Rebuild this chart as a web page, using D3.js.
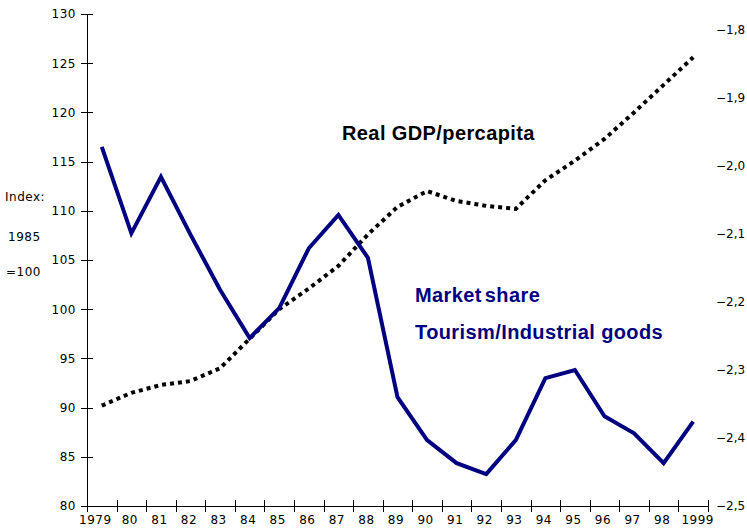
<!DOCTYPE html>
<html>
  <head>
    <meta charset="utf-8">
    <title>Real GDP per capita and market share</title>
    <script src="https://d3js.org/d3.v7.min.js"></script>
    <style>
      body { margin: 0; background: #fff; }
      #chart { width: 747px; height: 530px; display: block; }
      .axis text { font-family: "DejaVu Sans", sans-serif; font-size: 12px; letter-spacing: 0.5px; fill: #000; }
      #y2AxisGroup text { letter-spacing: 0; }
      .axis path, .axis line { stroke: #000; stroke-width: 1; shape-rendering: crispEdges; }
      .note { font-family: "DejaVu Sans", sans-serif; font-size: 12px; letter-spacing: 0.5px; fill: #000; }
      .label { font-family: "Liberation Sans", Arial, sans-serif; font-weight: bold; font-size: 20px; letter-spacing: 0.4px; }
    </style>
  </head>
  <body>
    <svg id="chart">
      <g id="xAxisGroup" class="axis"></g>
      <g id="xTickGroup" class="axis"></g>
      <g id="yAxisGroup" class="axis"></g>
      <g id="y2AxisGroup" class="axis"></g>
      <g id="chartGroup"></g>
    </svg>
    <script>
      // data
      var years = [1979, 1980, 1981, 1982, 1983, 1984, 1985, 1986, 1987, 1988, 1989,
        1990, 1991, 1992, 1993, 1994, 1995, 1996, 1997, 1998, 1999];
      var yearLabels = ["1979", "80", "81", "82", "83", "84", "85", "86", "87", "88", "89",
        "90", "91", "92", "93", "94", "95", "96", "97", "98", "1999"];
      // real GDP per capita, index 1985 = 100 (left axis)
      var gdp = [90.2, 91.5, 92.3, 92.7, 94.0, 97.0, 100.0, 102.1, 104.4, 107.6, 110.4,
        112.0, 111.0, 110.5, 110.2, 113.1, 115.1, 117.3, 120.0, 122.8, 125.6];
      // market share tourism / industrial goods (right axis)
      var share = [-1.972, -2.099, -2.016, -2.101, -2.182, -2.253, -2.209, -2.121, -2.072, -2.135, -2.340,
        -2.403, -2.437, -2.453, -2.403, -2.312, -2.300, -2.368, -2.393, -2.437, -2.376];
      var leftTicks = [80, 85, 90, 95, 100, 105, 110, 115, 120, 125, 130];
      var rightTicks = [-2.5, -2.4, -2.3, -2.2, -2.1, -2.0, -1.9, -1.8];

      var chart = d3.select("#chart");
      var chartGroup = d3.select("#chartGroup");

      // scales
      var x = d3.scaleLinear()
        .domain([years[0] - 0.5, years[years.length - 1] + 0.5])
        .range([87, 708]);
      var y = d3.scaleLinear()
        .domain([80, 130])
        .range([506, 14]);
      var y2 = d3.scaleLinear()
        .domain([-2.5, -1.8])
        .range([506, 30]);

      // x axis: labels in the middle of each year, ticks on the year boundaries
      var xAxis = d3.axisBottom(x)
        .tickValues(years)
        .tickSize(0)
        .tickPadding(9)
        .tickFormat(function(d, i) { return yearLabels[i]; });
      var xLabels = d3.select("#xAxisGroup")
        .attr("transform", "translate(0, 506)")
        .call(xAxis);
      xLabels.select(".domain").remove();
      // long end labels sit a little off centre
      xLabels.selectAll(".tick text")
        .attr("dx", function(d, i) { return i === 0 ? -7 : (i === years.length - 1 ? 4 : -2); });
      var bounds = years.map(function(d) { return d - 0.5; }).concat([years[years.length - 1] + 0.5]);
      var xTicks = d3.axisBottom(x)
        .tickValues(bounds)
        .tickSizeOuter(0)
        .tickSizeInner(6)
        .tickFormat("");
      d3.select("#xTickGroup")
        .attr("transform", "translate(0, 506)")
        .call(xTicks)
        .selectAll(".tick line").attr("y1", -6);

      // left axis
      var yAxis = d3.axisLeft(y)
        .tickValues(leftTicks)
        .tickSizeOuter(0)
        .tickSizeInner(6)
        .tickPadding(5);
      d3.select("#yAxisGroup")
        .attr("transform", "translate(87, 0)")
        .call(yAxis)
        .selectAll(".tick line").attr("x1", 6);

      // right axis, labels only
      var y2Axis = d3.axisRight(y2)
        .tickValues(rightTicks)
        .tickSize(0)
        .tickPadding(0)
        .tickFormat(function(d) { return "\u2212" + Math.abs(d).toFixed(1).replace(".", ","); });
      d3.select("#y2AxisGroup")
        .attr("transform", "translate(716, 0)")
        .call(y2Axis)
        .select(".domain").remove();

      // index note
      chart.append("text").attr("class", "note").attr("x", 5).attr("y", 201).text("Index:");
      chart.append("text").attr("class", "note").attr("x", 8).attr("y", 241).text("1985");
      chart.append("text").attr("class", "note").attr("x", 6).attr("y", 276).text("=100");

      // lines
      var gdpLine = d3.line()
        .x(function(d, i) { return x(years[i]); })
        .y(function(d) { return y(d); });
      var shareLine = d3.line()
        .x(function(d, i) { return x(years[i]); })
        .y(function(d) { return y2(d); });

      chartGroup.append("path")
        .attr("d", gdpLine(gdp))
        .attr("fill", "none")
        .attr("stroke", "#000")
        .attr("stroke-width", 4)
        .attr("stroke-dasharray", "4,4");
      chartGroup.append("path")
        .attr("d", shareLine(share))
        .attr("fill", "none")
        .attr("stroke", "#000080")
        .attr("stroke-width", 4)
        .attr("stroke-linejoin", "miter");

      // series labels
      chart.append("text").attr("class", "label").attr("x", 342).attr("y", 140)
        .attr("fill", "#000").text("Real GDP/percapita");
      chart.append("text").attr("class", "label").attr("x", 415).attr("y", 302)
        .attr("fill", "#000080").style("word-spacing", "-3px").text("Market share");
      chart.append("text").attr("class", "label").attr("x", 415).attr("y", 339)
        .attr("fill", "#000080").text("Tourism/Industrial goods");
    </script>
  </body>
</html>
